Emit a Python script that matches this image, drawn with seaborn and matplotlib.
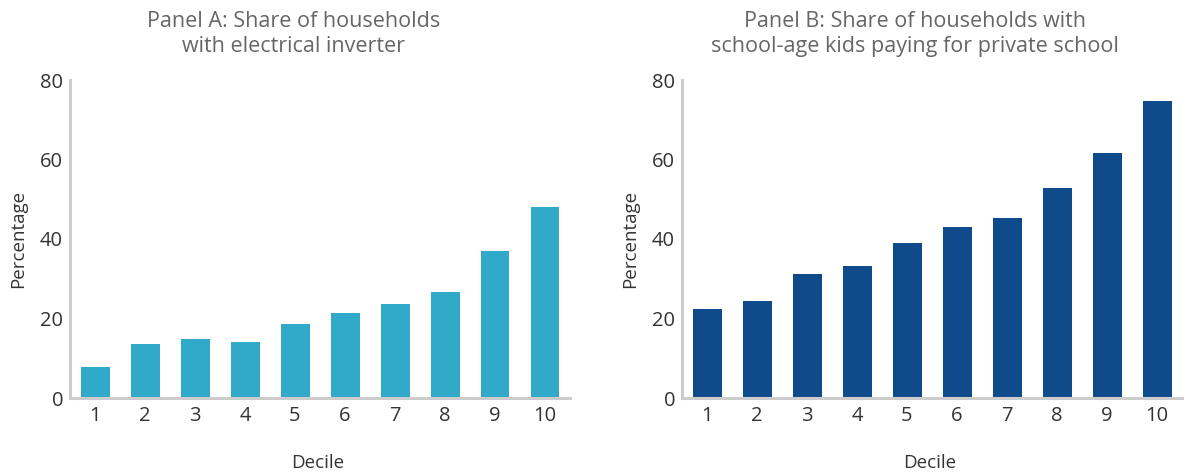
import matplotlib
matplotlib.use("Agg")
import matplotlib.pyplot as plt
import seaborn as sns
import pandas as pd
from matplotlib.ticker import FixedLocator

deciles = ["1", "2", "3", "4", "5", "6", "7", "8", "9", "10"]
inverter = [7.8, 13.6, 14.8, 14.1, 18.6, 21.4, 23.6, 26.7, 37.0, 48.0]
private_school = [22.5, 24.5, 31.1, 33.3, 38.9, 43.1, 45.4, 52.9, 61.7, 74.8]
yticks = [0, 20, 40, 60, 80]

title_a = "Panel A: Share of households\nwith electrical inverter"
title_b = "Panel B: Share of households with\nschool-age kids paying for private school"

sns.set_theme(style="white")
plt.rcParams["font.family"] = ["Open Sans", "DejaVu Sans"]

fig = plt.figure(figsize=(11.93, 4.76), dpi=100)
W, H = 1193, 476
axA = fig.add_axes([70 / W, 1 - 398 / H, 500 / W, 318 / H])
axB = fig.add_axes([682 / W, 1 - 398 / H, 500 / W, 318 / H])

spine_c = "#cccccc"
panels = [
    (axA, inverter, "#31a9c9", title_a, 0.448),
    (axB, private_school, "#0f4a8a", title_b, 0.466),
]
for ax, vals, col, title, tx in panels:
    df = pd.DataFrame({"Decile": deciles, "Percentage": vals})
    sns.barplot(data=df, x="Decile", y="Percentage", color=col, width=0.58,
                saturation=1, linewidth=0, ax=ax)
    ax.set_xlim(-0.5, 9.5)
    ax.set_ylim(0, 80)
    ax.set_yticks(yticks)
    for s in ["top", "right"]:
        ax.spines[s].set_visible(False)
    for s in ["left", "bottom"]:
        ax.spines[s].set_color(spine_c)
        ax.spines[s].set_linewidth(2.2)
    ax.tick_params(axis="y", direction="in", length=7.5, width=2.2, color=spine_c,
                   labelsize=14.5, labelcolor="#333333", pad=5)
    ax.tick_params(axis="x", which="major", length=0, labelsize=14.5,
                   labelcolor="#333333", pad=6)
    ax.xaxis.set_minor_locator(FixedLocator([i + 0.5 for i in range(10)]))
    ax.tick_params(axis="x", which="minor", direction="in", length=5, width=2.2,
                   color=spine_c)
    ax.set_xlabel("Decile", fontsize=13.5, color="#333333")
    ax.set_ylabel("Percentage", fontsize=13.5, color="#333333")
    ax.xaxis.set_label_coords(0.495, -0.175)
    ax.yaxis.set_label_coords(-0.085, 0.5)
    ax.text(tx, 1.144, title, transform=ax.transAxes, ha="center", va="center",
            fontsize=15.5, color="#666666", linespacing=1.25)
    ax.grid(False)

fig.savefig("out.png", dpi=100, facecolor="white")
